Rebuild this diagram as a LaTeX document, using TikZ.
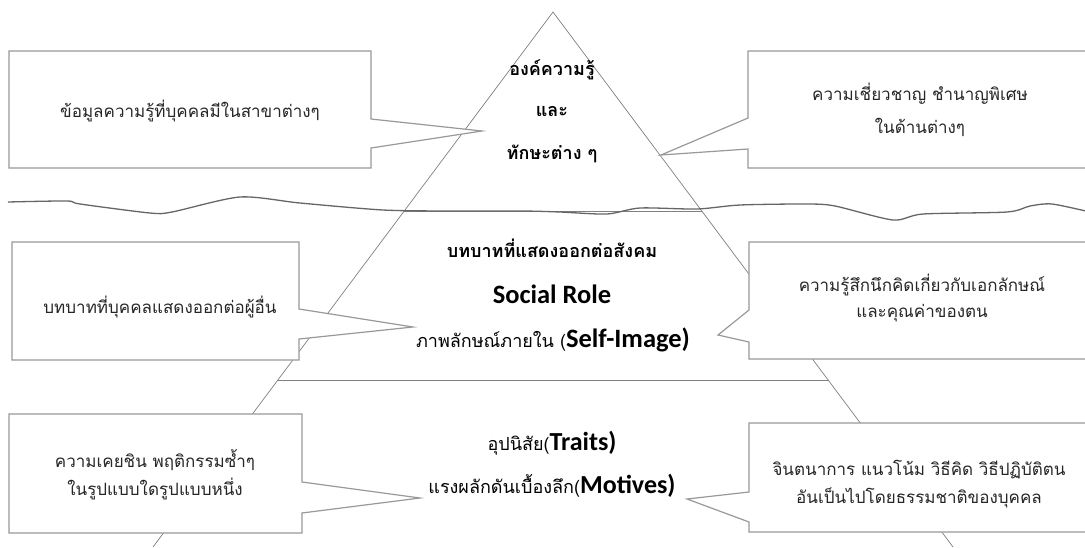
\documentclass[tikz,border=0pt]{standalone}
\usepackage{fontspec}
\setmainfont{Carlito}
\newfontfamily\thai[Script=Thai]{Loma}
\newfontfamily\lat{Carlito}
\begin{document}
\begin{tikzpicture}[x=1pt,y=-1pt,
  edge/.style={draw=black!50, line width=0.7pt},
  callout/.style={draw=black!40, line width=1.2pt, fill=white, line join=miter},
  wave/.style={draw=black!60, line width=1.3pt, line join=round},
  ctext/.style={font=\thai\fontsize{17}{20}\selectfont, text=black!85, inner sep=0, anchor=base},
  mtext/.style={font=\thai\bfseries\fontsize{18}{22}\selectfont, text=black, inner sep=0, anchor=base},
  rtext/.style={font=\thai\fontsize{18}{22}\selectfont, text=black, inner sep=0, anchor=base},
  ltext/.style={font=\lat\bfseries\fontsize{26.5}{28}\selectfont}
]
\useasboundingbox (0,0) rectangle (1085,547);
\clip (0,0) rectangle (1085,547);
\fill[white] (0,0) rectangle (1085,547);
% pyramid
\coordinate (apex) at (553,12);
\coordinate (bl) at (153,547);
\coordinate (br) at (953,547);
\coordinate (l1) at (404,211);
\coordinate (r1) at (702,211);
\coordinate (l2) at (277,380);
\coordinate (r2) at (829,380);
\draw[edge] (bl) -- (apex) -- (br);
\draw[edge] (l1) -- (r1);
\draw[edge] (l2) -- (r2);
% wavy line
\draw[wave] plot[smooth, tension=0.45] coordinates {(8,202) (67,201) (80,204) (150,213) (172,212) (240,197) (300,203) (383,210) (450,211) (523,211) (560,212) (607,214) (640,208) (697,209) (740,205) (807,204) (835,206) (893,220) (923,214) (1007,212) (1030,206) (1052,204) (1090,212)};
% callouts
\draw[callout] (9,51) -- (371,51) -- (371,119) -- (482,131) -- (371,148) -- (371,168) -- (9,168) -- cycle;
\draw[callout] (748,51) -- (1092,51) -- (1092,168) -- (748,168) -- (748,149) -- (661,155) -- (748,118) -- cycle;
\draw[callout] (12,242) -- (299,242) -- (299,309) -- (413,327) -- (299,339) -- (299,360) -- (12,360) -- cycle;
\draw[callout] (749,242) -- (1092,242) -- (1092,359) -- (749,359) -- (749,342) -- (718,335) -- (749,310) -- cycle;
\draw[callout] (9,414) -- (302,414) -- (302,482) -- (420,498) -- (302,513) -- (302,533) -- (9,533) -- cycle;
\draw[callout] (749,423) -- (1092,423) -- (1092,532) -- (749,532) -- (749,522) -- (687,499) -- (749,492) -- cycle;
% callout texts
\node[ctext] (t1) at (190,117) {ข้อมูลความรู้ที่บุคคลมีในสาขาต่างๆ};
\node[ctext] (t2a) at (920,100) {ความเชี่ยวชาญ ชำนาญพิเศษ};
\node[ctext] (t2b) at (920,133) {ในด้านต่างๆ};
\node[ctext] (t3) at (160,313) {บทบาทที่บุคคลแสดงออกต่อผู้อื่น};
\node[ctext] (t4a) at (922,291) {ความรู้สึกนึกคิดเกี่ยวกับเอกลักษณ์};
\node[ctext] (t4b) at (922,317) {และคุณค่าของตน};
\node[ctext] (t5a) at (155,467) {ความเคยชิน พฤติกรรมซ้ำๆ};
\node[ctext] (t5b) at (155,495) {ในรูปแบบใดรูปแบบหนึ่ง};
\node[ctext] (t6a) at (919,475) {จินตนาการ แนวโน้ม วิธีคิด วิธีปฏิบัติตน};
\node[ctext] (t6b) at (919,503) {อันเป็นไปโดยธรรมชาติของบุคคล};
% pyramid texts
\node[mtext] (m1) at (552,75) {องค์ความรู้};
\node[mtext] (m2) at (552,116) {และ};
\node[mtext] (m3) at (552,159) {ทักษะต่าง ๆ};
\node[mtext] (m4) at (552,257) {บทบาทที่แสดงออกต่อสังคม};
\node[inner sep=0, anchor=base, ltext] (m5) at (552,303) {Social Role};
\node[rtext] (m6) at (553,347) {ภาพลักษณ์ภายใน ({\lat\bfseries\fontsize{26.5}{28}\selectfont Self-Image)}};
\node[rtext] (m7) at (552,450) {อุปนิสัย({\lat\bfseries\fontsize{26}{28}\selectfont Traits)}};
\node[rtext] (m8) at (552,493) {แรงผลักดันเบื้องลึก({\lat\bfseries\fontsize{26}{28}\selectfont Motives)}};
\end{tikzpicture}
\end{document}
